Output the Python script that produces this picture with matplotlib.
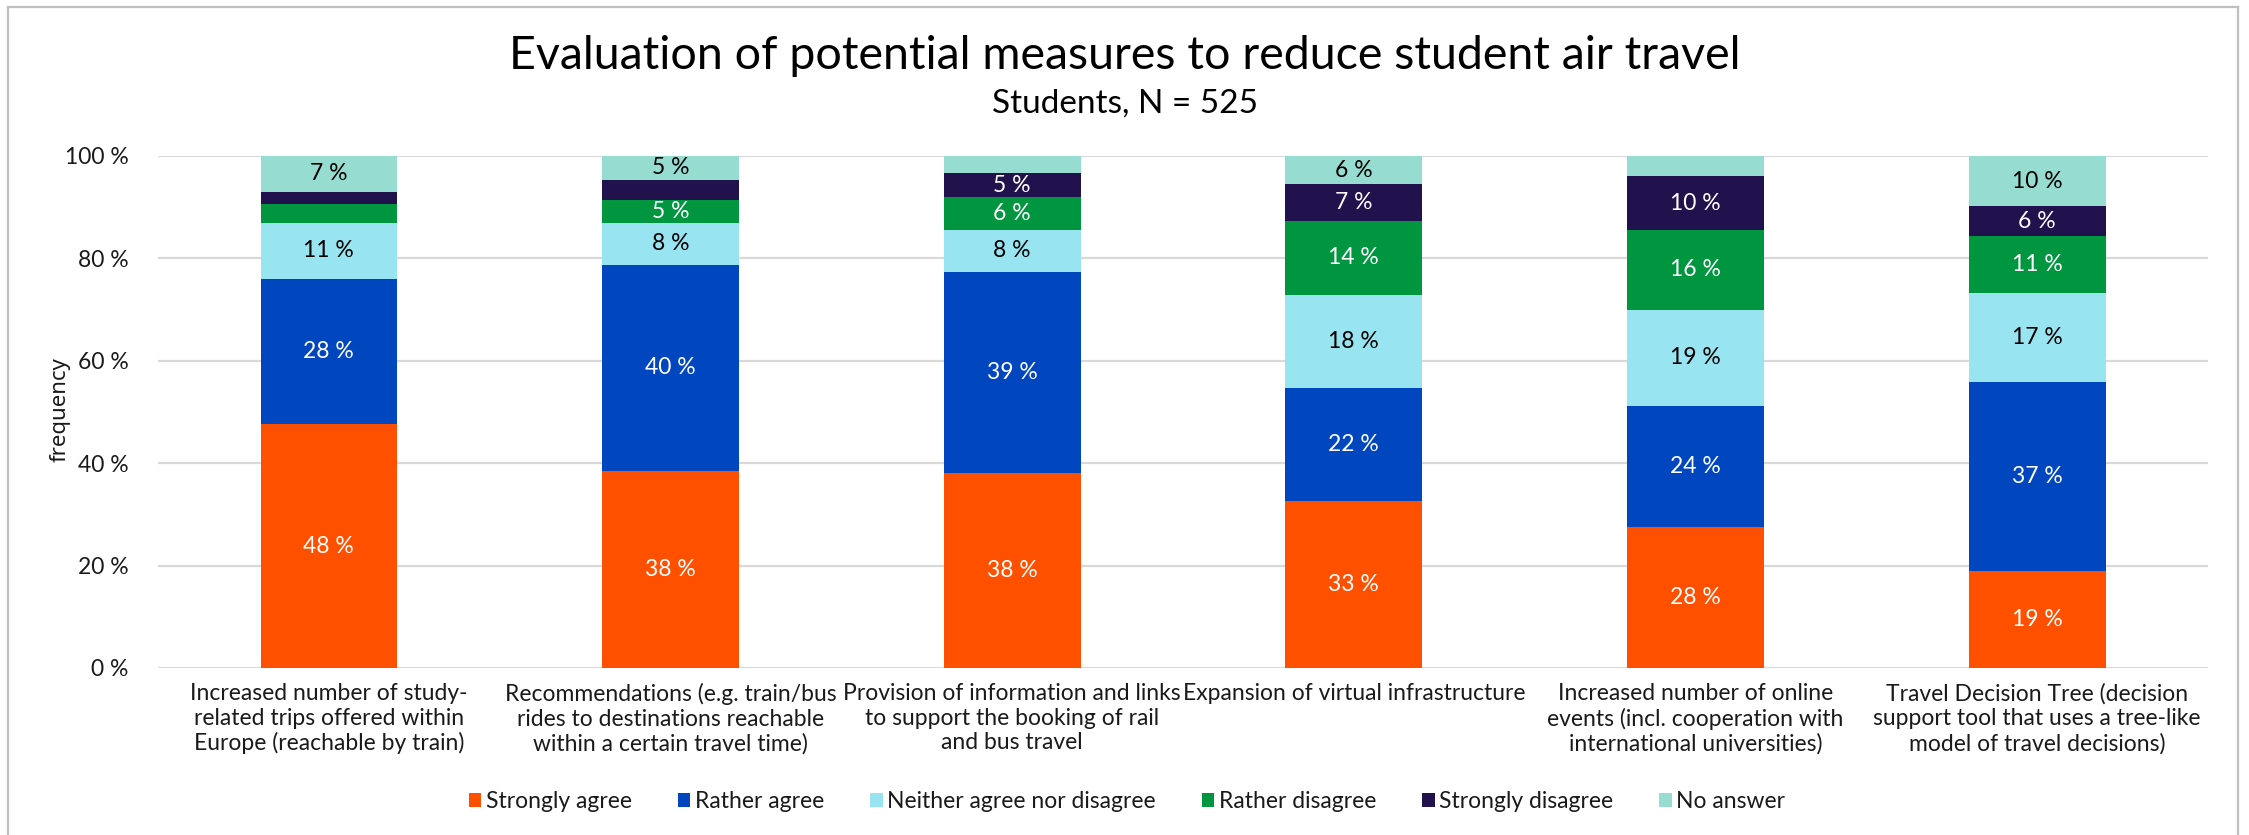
import matplotlib
matplotlib.use("Agg")
import matplotlib.pyplot as plt
from matplotlib.lines import Line2D
from matplotlib.patches import Patch
import numpy as np

plt.rcParams['font.family'] = ['Lato', 'DejaVu Sans']

categories = [
    "Increased number of study-\nrelated trips offered within\nEurope (reachable by train)",
    "Recommendations (e.g. train/bus\nrides to destinations reachable\nwithin a certain travel time)",
    "Provision of information and links\nto support the booking of rail\nand bus travel",
    "Expansion of virtual infrastructure",
    "Increased number of online\nevents (incl. cooperation with\ninternational universities)",
    "Travel Decision Tree (decision\nsupport tool that uses a tree-like\nmodel of travel decisions)",
]

strongly_agree = [47.6, 38.4, 38.1, 32.6, 27.6, 19.0]
rather_agree = [28.4, 40.4, 39.3, 22.0, 23.6, 36.9]
neither = [10.9, 8.1, 8.2, 18.3, 18.8, 17.4]
rather_disagree = [3.8, 4.6, 6.3, 14.4, 15.6, 11.0]
strongly_disagree = [2.3, 3.9, 4.7, 7.2, 10.4, 5.9]
no_answer = [7.0, 4.6, 3.4, 5.5, 4.0, 9.8]

series_names = ["Strongly agree", "Rather agree", "Neither agree nor disagree",
                "Rather disagree", "Strongly disagree", "No answer"]
series_values = [strongly_agree, rather_agree, neither, rather_disagree,
                 strongly_disagree, no_answer]
colors = ["#FF5000", "#0046BE", "#98E5F1", "#009640", "#21124E", "#96DCD0"]
text_colors = ["white", "white", "black", "white", "white", "black"]

FS = 16.5
W, H = 2249, 835
fig = plt.figure(figsize=(W / 100, H / 100), dpi=100)
ax = fig.add_axes([158 / W, 1 - 668 / H, (2208 - 158) / W, (668 - 156) / H])

x = np.arange(len(categories))
bottom = np.zeros(len(categories))
for name, vals, col, tcol in zip(series_names, series_values, colors, text_colors):
    vals = np.array(vals)
    ax.bar(x, vals, width=0.4, bottom=bottom, color=col, label=name, zorder=3)
    for xi, b, v in zip(x, bottom, vals):
        if v >= 4.5:
            ax.text(xi, b + v / 2, f"{v:.0f} %", ha='center', va='center',
                    color=tcol, fontsize=FS, zorder=4)
    bottom += vals

ax.set_xlim(-0.5, len(categories) - 0.5)
ax.set_ylim(0, 100)
ax.set_yticks([0, 20, 40, 60, 80, 100])
ax.set_yticklabels([f"{v} %" for v in [0, 20, 40, 60, 80, 100]], fontsize=FS, color='#1a1a1a')
ax.set_xticks(x)
ax.set_xticklabels(categories, fontsize=FS, color='#1a1a1a', linespacing=1.2)
ax.tick_params(axis='y', length=0, pad=21)
ax.tick_params(axis='x', length=0, pad=11)
ax.yaxis.grid(True, color='#D9D9D9', linewidth=1.6, zorder=0)
ax.set_axisbelow(True)
for s in ax.spines.values():
    s.set_visible(False)

fig.text(60 / W, 1 - 410 / H, "frequency", rotation=90, ha='center', va='center',
         fontsize=16, family=['Noto Sans', 'DejaVu Sans'], color='#1a1a1a')

fig.text(0.5, 1 - 69 / H, "Evaluation of potential measures to reduce student air travel",
         ha='center', va='baseline', fontsize=33.5, color='black')
fig.text(0.5, 1 - 113 / H, "Students, N = 525", ha='center', va='baseline',
         fontsize=24, color='black')

handles = [Patch(facecolor=c, label=n) for c, n in zip(colors, series_names)]
fig.legend(handles=handles, loc='center', bbox_to_anchor=(1127 / W, 1 - 802 / H),
           ncol=6, frameon=False, fontsize=FS, handlelength=0.55, handleheight=0.55,
           handletextpad=0.2, columnspacing=2.0, labelcolor='#1a1a1a')

bc = '#BFBFBF'
fig.add_artist(Line2D([8 / W, 8 / W], [0, 1 - 7 / H], color=bc, lw=1.6, transform=fig.transFigure))
fig.add_artist(Line2D([8 / W, 2238 / W], [1 - 7 / H, 1 - 7 / H], color=bc, lw=1.6, transform=fig.transFigure))
fig.add_artist(Line2D([2238 / W, 2238 / W], [0, 1 - 7 / H], color=bc, lw=1.6, transform=fig.transFigure))

fig.savefig("out.png", dpi=100)
